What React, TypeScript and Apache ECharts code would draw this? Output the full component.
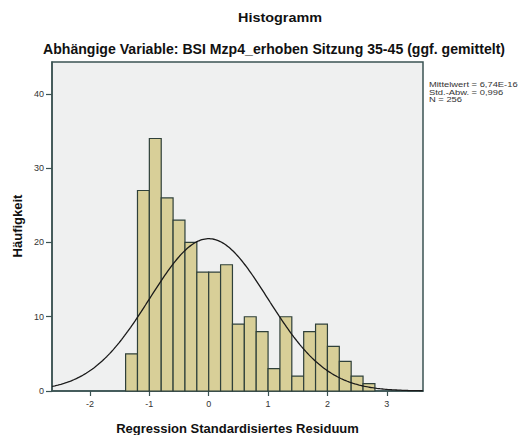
import React, { useEffect, useRef } from "react";
import * as echarts from "echarts";

const BIN_LEFT = [-1.4, -1.2, -1.0, -0.8, -0.6, -0.4, -0.2, 0.0, 0.2, 0.4, 0.6, 0.8, 1.0, 1.2, 1.4, 1.6, 1.8, 2.0, 2.2, 2.4, 2.6];
const BIN_RIGHT = [-1.2, -1.0, -0.8, -0.6, -0.4, -0.2, 0.0, 0.2, 0.4, 0.6, 0.8, 1.0, 1.2, 1.4, 1.6, 1.8, 2.0, 2.2, 2.4, 2.6, 2.8];
const COUNTS = [5, 27, 34, 26, 23, 20, 16, 16, 17, 9, 10, 8, 3, 10, 2, 8, 9, 6, 4, 2, 1];
const X_TICKS = [-2, -1, 0, 1, 2, 3];
const Y_TICKS = [0, 10, 20, 30, 40];
const MEAN = 6.74e-16;
const SD = 0.996;
const N = 256;
const BIN_WIDTH = 0.2;
const X_MIN = -2.64;
const X_MAX = 3.61;
const Y_MAX = 44.3;

const TITLE = "Histogramm";
const SUBTITLE = "Abhängige Variable: BSI Mzp4_erhoben Sitzung 35-45 (ggf. gemittelt)";
const X_NAME = "Regression Standardisiertes Residuum";
const Y_NAME = "Häufigkeit";
const STATS = ["Mittelwert = 6,74E-16", "Std.-Abw. = 0,996", "N = 256"];

export default function App() {
  const ref = useRef<HTMLDivElement>(null);
  useEffect(() => {
    const chart = echarts.init(ref.current!, null, { renderer: "svg" });
    const curve: number[][] = [];
    for (let i = 0; i <= 250; i++) {
      const x = X_MIN + ((X_MAX - X_MIN) * i) / 250;
      const z = (x - MEAN) / SD;
      const y = (N * BIN_WIDTH * Math.exp(-0.5 * z * z)) / (SD * Math.sqrt(2 * Math.PI));
      curve.push([x, y]);
    }
    const font = "'Liberation Sans', Arial, sans-serif";
    const axisColor = "#3b5353";
    chart.setOption({
      animation: false,
      backgroundColor: "#ffffff",
      textStyle: { fontFamily: font },
      grid: {
        left: 52,
        right: 101,
        top: 62,
        bottom: 44,
        show: true,
        backgroundColor: "#eff0f0",
        borderColor: axisColor,
        borderWidth: 1.5,
      },
      xAxis: {
        type: "value",
        min: X_MIN,
        max: X_MAX,
        axisLine: { show: true, onZero: false, lineStyle: { color: axisColor, width: 1.5 } },
        axisTick: { show: true, customValues: X_TICKS, length: 5, lineStyle: { color: axisColor, width: 1.2 } },
        axisLabel: { customValues: X_TICKS, fontSize: 9, color: "#333", margin: 8, fontFamily: font },
        splitLine: { show: false },
      },
      yAxis: {
        type: "value",
        min: 0,
        max: Y_MAX,
        axisLine: { show: true, onZero: false, lineStyle: { color: axisColor, width: 1.5 } },
        axisTick: { show: true, customValues: Y_TICKS, length: 6, lineStyle: { color: axisColor, width: 1.2 } },
        axisLabel: { customValues: Y_TICKS, fontSize: 9, color: "#333", margin: 8, fontFamily: font },
        splitLine: { show: false },
      },
      series: [
        {
          type: "custom",
          data: BIN_LEFT.map((l, i) => [l, BIN_RIGHT[i], COUNTS[i]]),
          encode: { x: [0, 1], y: 2 },
          renderItem: (params: any, api: any) => {
            const p0 = api.coord([api.value(0), api.value(2)]);
            const p1 = api.coord([api.value(1), 0]);
            return {
              type: "rect",
              shape: { x: p0[0], y: p0[1], width: p1[0] - p0[0], height: p1[1] - p0[1] },
              style: { fill: "#d8cf98", stroke: "#2f403a", lineWidth: 1.2 },
            };
          },
          z: 2,
        },
        {
          type: "line",
          data: curve,
          showSymbol: false,
          symbol: "none",
          lineStyle: { color: "#1a1a1a", width: 1.3 },
          clip: true,
          z: 3,
        },
      ],
      graphic: [
        {
          type: "text",
          x: 280,
          y: 17.5,
          style: { text: TITLE, font: `bold 12px ${font}`, fill: "#111", align: "center", verticalAlign: "middle" },
          scaleX: 1.2,
        },
        {
          type: "text",
          x: 43,
          y: 49,
          style: { text: SUBTITLE, font: `bold 14.1px ${font}`, fill: "#111", align: "left", verticalAlign: "middle" },
        },
        {
          type: "text",
          x: 237.5,
          y: 428,
          style: { text: X_NAME, font: `bold 13px ${font}`, fill: "#111", align: "center", verticalAlign: "middle" },
        },
        {
          type: "text",
          x: 17,
          y: 226,
          rotation: Math.PI / 2,
          style: { text: Y_NAME, font: `bold 13px ${font}`, fill: "#111", align: "center", verticalAlign: "middle" },
        },
        {
          type: "text",
          x: 429,
          y: 81,
          scaleX: 1.25,
          style: { text: STATS.join("\n"), font: `7.5px ${font}`, lineHeight: 7.5, fill: "#333", align: "left", verticalAlign: "top" },
        },
      ],
    });
    return () => chart.dispose();
  }, []);
  return <div ref={ref} style={{ position: "fixed", left: 0, top: 0, width: 524, height: 435 }} />;
}
